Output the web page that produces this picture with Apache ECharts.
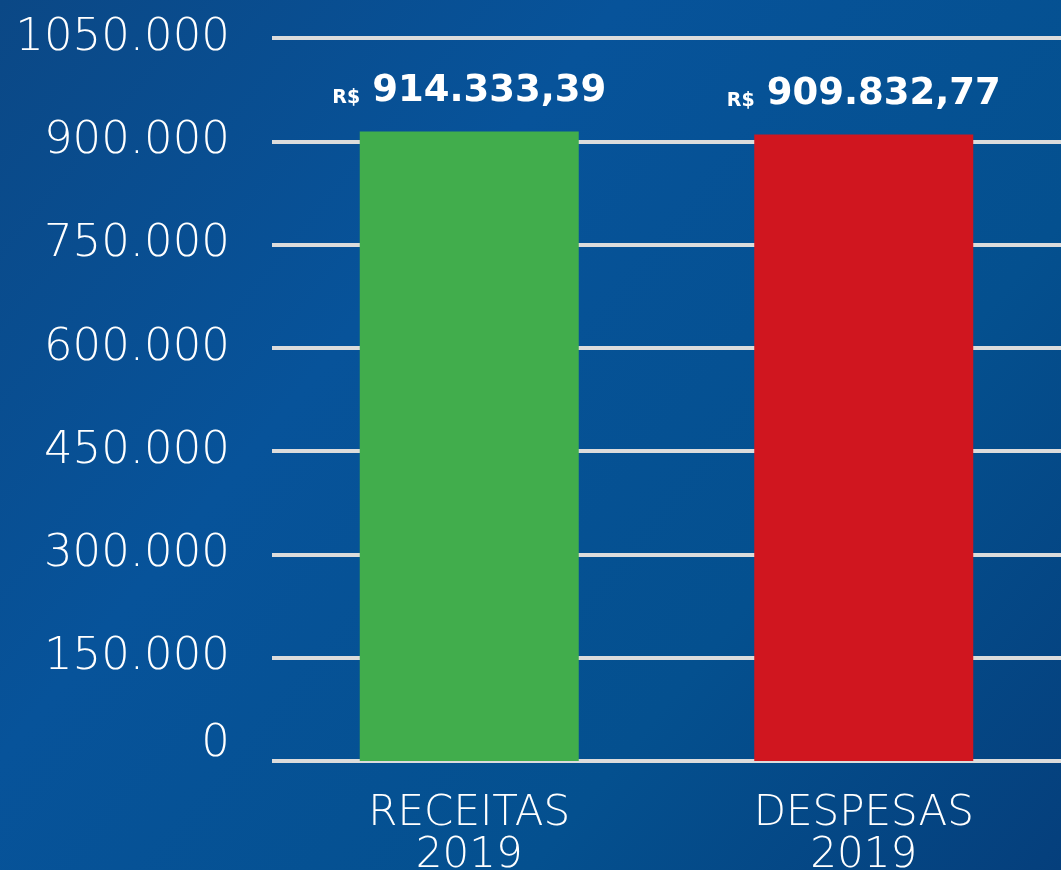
<!DOCTYPE html>
<html>
<head>
<meta charset="utf-8">
<script src="https://cdn.jsdelivr.net/npm/echarts@6/dist/echarts.min.js"></script>
<style>
html,body{margin:0;padding:0;background:#0a4d8f;}
#c{width:1061px;height:870px;}
</style>
</head>
<body>
<div id="c"></div>
<script>
const categories = ['RECEITAS\n2019', 'DESPESAS\n2019'];
const values = [914333.39, 909832.77];
const valueLabels = ['914.333,39', '909.832,77'];
const barColors = ['#41ad4c', '#d0161f'];
const yTickLabels = ['0', '150.000', '300.000', '450.000', '600.000', '750.000', '900.000', '1050.000'];
const yMax = 1050000;
const yInterval = 150000;

const chart = echarts.init(document.getElementById('c'), null, {renderer: 'canvas'});
chart.setOption({
  animation: false,
  backgroundColor: {
    type: 'linear', x: 0, y: 0, x2: 1, y2: 1,
    colorStops: [
      {offset: 0, color: '#0b4886'},
      {offset: 0.35, color: '#07539a'},
      {offset: 0.7, color: '#04508f'},
      {offset: 1, color: '#053f7c'}
    ]
  },
  grid: {left: 272, right: 0, top: 38, bottom: 109, containLabel: false, outerBoundsMode: 'none'},
  xAxis: {
    type: 'category',
    data: categories,
    axisLine: {show: false},
    axisTick: {show: false},
    axisLabel: {
      color: '#ffffff',
      fontFamily: 'DejaVu Sans',
      fontWeight: 200,
      fontSize: 42,
      lineHeight: 42,
      margin: 32
    }
  },
  yAxis: {
    type: 'value',
    min: 0,
    max: yMax,
    interval: yInterval,
    axisLine: {show: false},
    axisTick: {show: false},
    splitLine: {lineStyle: {color: '#dcdcdc', width: 4}},
    axisLabel: {
      color: '#ffffff',
      fontFamily: 'DejaVu Sans',
      fontWeight: 200,
      fontSize: 45,
      margin: 42,
      formatter: function (v) {
        const lbl = yTickLabels[Math.round(v / yInterval)];
        return v === 0 ? '{z|' + lbl + '}' : lbl;
      },
      rich: {
        z: {color: '#ffffff', fontFamily: 'DejaVu Sans', fontWeight: 200, fontSize: 45, padding: [0, 0, 34, 0]}
      }
    }
  },
  series: [{
    type: 'bar',
    barWidth: 219,
    data: values.map((v, i) => ({value: v, itemStyle: {color: barColors[i]}})),
    label: {
      show: true,
      position: 'top',
      distance: 22,
      formatter: function (p) {
        return '{s|R$}{n|' + valueLabels[p.dataIndex] + '}';
      },
      rich: {
        s: {color: '#ffffff', fontFamily: 'DejaVu Sans', fontWeight: 'bold', fontSize: 19, verticalAlign: 'bottom', padding: [0, 12, 2, 0]},
        n: {color: '#ffffff', fontFamily: 'DejaVu Sans', fontWeight: 'bold', fontSize: 37}
      }
    }
  }]
});
</script>
</body>
</html>
